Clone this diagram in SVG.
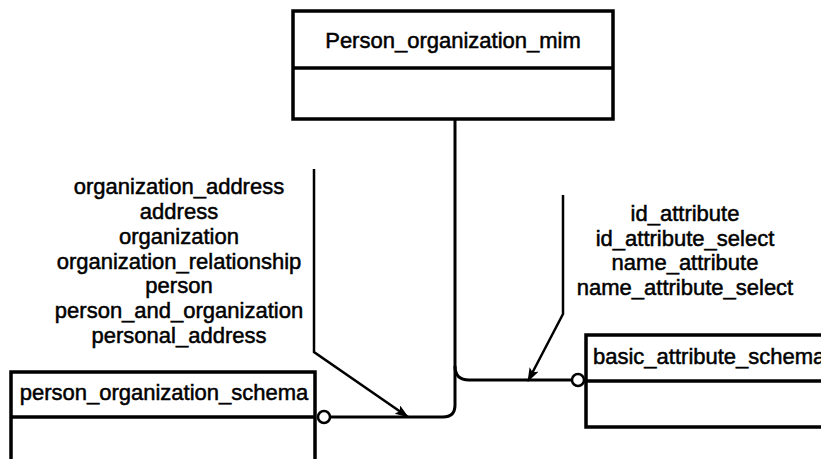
<svg xmlns="http://www.w3.org/2000/svg" width="821" height="459" viewBox="0 0 821 459">
<style>
.box{fill:#fff;stroke:#000;stroke-width:3.5}
.div{stroke:#000;stroke-width:3.5}
.ln{fill:none;stroke:#000;stroke-width:3}
.ld{fill:none;stroke:#000;stroke-width:2.5}
.t{font-family:"Liberation Sans",Arial,sans-serif;font-size:22px;fill:#000;stroke:#000;stroke-width:0.5}
.c{text-anchor:middle}
.o{fill:#fff;stroke:#000;stroke-width:2.5}
</style>
<defs>
<marker id="ah" markerWidth="14" markerHeight="10" refX="13" refY="5" orient="auto" markerUnits="userSpaceOnUse">
<path d="M0,0 L14,5 L0,10 L3,5 Z" fill="#000"/>
</marker>
</defs>
<rect width="821" height="459" fill="#fff"/>
<g id="connectors">
<path class="ln" d="M455,119 V405 Q455,417 443,417 H330"/>
<path class="ln" d="M455,366 Q455,380 469,380 H573"/>
<circle class="o" cx="324" cy="417" r="6"/>
<circle class="o" cx="578" cy="380" r="6"/>
<polyline class="ld" points="314,169 314,352 408,417" marker-end="url(#ah)"/>
<polyline class="ld" points="563,195 563,314 528,381" marker-end="url(#ah)"/>
</g>
<g id="Person_organization_mim">
<rect class="box" x="293" y="11" width="320" height="108"/>
<line class="div" x1="293" y1="68" x2="613" y2="68"/>
<text class="t c" x="453" y="48">Person_organization_mim</text>
</g>
<g id="person_organization_schema">
<rect class="box" x="11" y="372" width="304" height="100"/>
<line class="div" x1="11" y1="417" x2="315" y2="417"/>
<text class="t c" x="164" y="400">person_organization_schema</text>
</g>
<g id="basic_attribute_schema">
<rect class="box" x="586" y="335" width="260" height="92"/>
<line class="div" x1="586" y1="381" x2="846" y2="381"/>
<text class="t" x="593" y="364">basic_attribute_schema</text>
</g>
<g id="label_left">
<text class="t c" x="179" y="194">organization_address</text>
<text class="t c" x="179" y="219">address</text>
<text class="t c" x="179" y="244">organization</text>
<text class="t c" x="179" y="269">organization_relationship</text>
<text class="t c" x="179" y="293">person</text>
<text class="t c" x="179" y="318">person_and_organization</text>
<text class="t c" x="179" y="343">personal_address</text>
</g>
<g id="label_right">
<text class="t c" x="685" y="221">id_attribute</text>
<text class="t c" x="685" y="246">id_attribute_select</text>
<text class="t c" x="685" y="270">name_attribute</text>
<text class="t c" x="685" y="295">name_attribute_select</text>
</g>
</svg>
